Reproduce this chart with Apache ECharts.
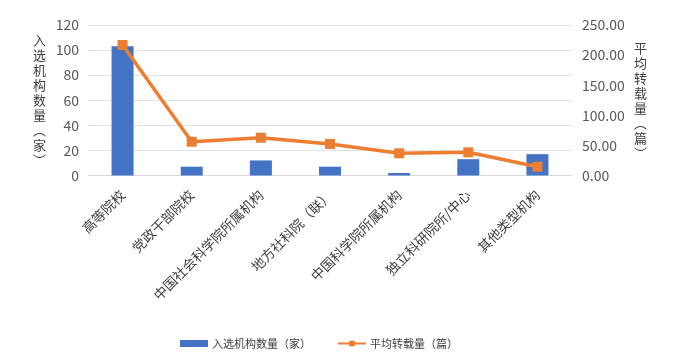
<!DOCTYPE html>
<html><head><meta charset="utf-8">
<script src="https://cdn.jsdelivr.net/npm/echarts@6/dist/echarts.min.js"></script>
<style>html,body{margin:0;padding:0;background:#fff}#c{width:677px;height:360px}</style>
</head><body><div id="c"></div>
<script>
const categories = ['高等院校','党政干部院校','中国社会科学院所属机构','地方社科院（联）','中国科学院所属机构','独立科研院所/中心','其他类型机构'];
const institutionCounts = [103, 7, 12, 7, 2, 13, 17];
const avgReprints = [216.8, 56.1, 62.8, 52.3, 36.9, 38.5, 14.6];
const leftTicks = {min: 0, max: 120, interval: 20};
const rightTicks = {min: 0, max: 250, interval: 50};
const leftName = '入选机构数量（家）';
const rightName = '平均转载量（篇）';
const vert = s => s.replace('（','︵').replace('）','︶').split('').join('\n');
const chart = echarts.init(document.getElementById('c'), null, {renderer:'canvas'});
const font = '"Noto Sans CJK SC", "Noto Sans", sans-serif';
chart.setOption({
  animation: false,
  textStyle: {fontFamily: font},
  grid: {left: 88, right: 105, top: 25, bottom: 184.5},
  legend: {
    bottom: 6, left: 175, itemGap: 26, itemWidth: 28, itemHeight: 7,
    textStyle: {fontFamily: font, fontSize: 11, color: '#404040', padding: [0,0,0,-1]},
    data: [{name: leftName, icon: 'rect'}, {name: rightName}]
  },
  xAxis: {
    type: 'category', data: categories,
    axisLine: {lineStyle: {color: '#d9d9d9'}},
    axisTick: {show: false},
    axisLabel: {rotate: 45, interval: 0, fontSize: 13.5, color: '#404040', margin: 17, fontFamily: font}
  },
  yAxis: [{
    type: 'value', min: leftTicks.min, max: leftTicks.max, interval: leftTicks.interval,
    name: vert(leftName), nameLocation: 'middle', nameRotate: 0, nameGap: 42,
    nameTextStyle: {fontSize: 13, color: '#404040', lineHeight: 15, fontFamily: font},
    axisLabel: {fontSize: 14, color: '#595959', margin: 9},
    splitLine: {lineStyle: {color: '#e3e3e3'}},
    axisLine: {show: false}, axisTick: {show: false}
  }, {
    type: 'value', min: rightTicks.min, max: rightTicks.max, interval: rightTicks.interval,
    name: vert(rightName), nameLocation: 'middle', nameRotate: 0, nameGap: 62,
    nameTextStyle: {fontSize: 13, color: '#404040', lineHeight: 15, fontFamily: font},
    axisLabel: {fontSize: 14, color: '#595959', margin: 10, formatter: v => v.toFixed(2)},
    splitLine: {show: false}, axisLine: {show: false}, axisTick: {show: false}
  }],
  series: [{
    name: leftName, type: 'bar', data: institutionCounts, barWidth: 22,
    itemStyle: {color: '#4472C4'}
  }, {
    name: rightName, type: 'line', yAxisIndex: 1, data: avgReprints,
    symbol: 'rect', symbolSize: 10,
    lineStyle: {color: '#ED7D31', width: 3.5},
    itemStyle: {color: '#ED7D31'}
  }]
});
</script></body></html>
